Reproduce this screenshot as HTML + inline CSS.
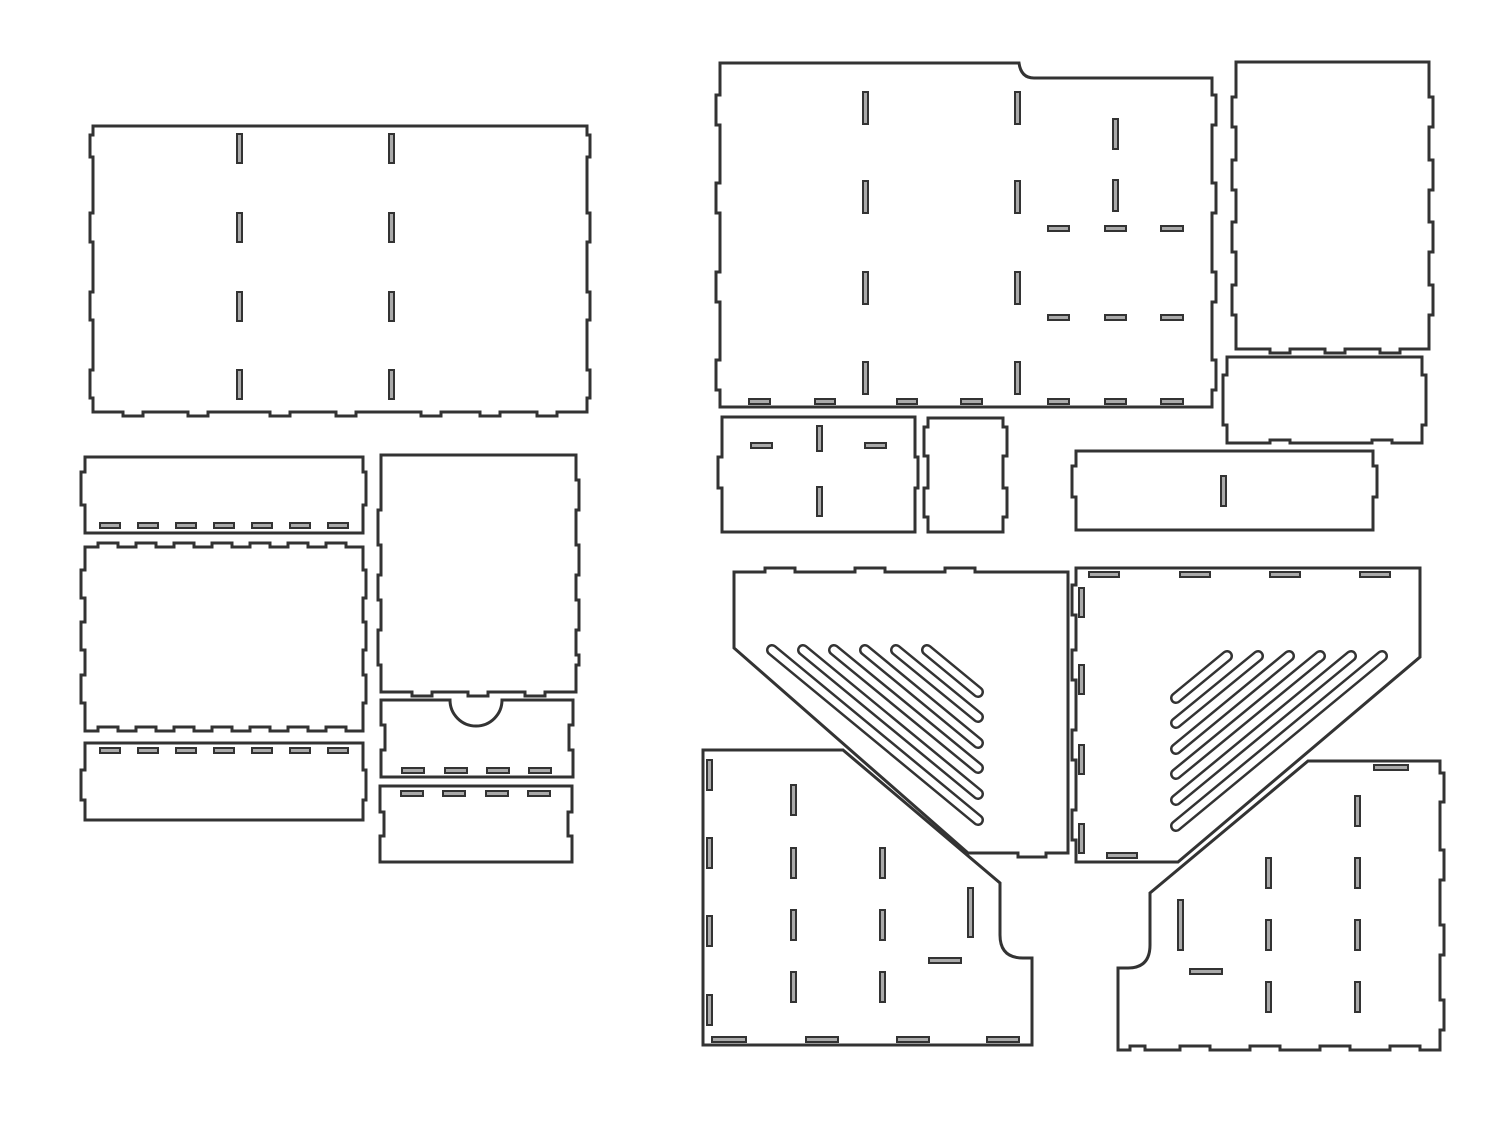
<!DOCTYPE html>
<html><head><meta charset="utf-8"><style>
html,body{margin:0;padding:0;background:#fff;}
svg{display:block}
.p{fill:#fff;stroke:#333;stroke-width:3;stroke-linejoin:miter}
.s{fill:#aaa;stroke:#333;stroke-width:2}
.ro{stroke:#333;stroke-width:12;stroke-linecap:round;fill:none}
.ri{stroke:#fff;stroke-width:7;stroke-linecap:round;fill:none}
</style></head><body>
<svg width="1509" height="1122" viewBox="0 0 1509 1122" xmlns="http://www.w3.org/2000/svg">
<!-- top-left big panel -->
<path class="p" d="M93,126 H587 V135 H590 V157 H587 V213 H590 V242 H587 V292 H590 V320 H587 V370 H590 V398 H587 V412 H557 V416 H537 V412 H500 V416 H480 V412 H441 V416 H421 V412 H356 V416 H336 V412 H290 V416 H270 V412 H208 V416 H188 V412 H143 V416 H123 V412 H93 V398 H90 V370 H93 V320 H90 V292 H93 V242 H90 V213 H93 V157 H90 V135 H93 Z"/>
<g class="s">
<rect x="237" y="134" width="5" height="29"/><rect x="237" y="213" width="5" height="29"/><rect x="237" y="292" width="5" height="29"/><rect x="237" y="370" width="5" height="29"/>
<rect x="389" y="134" width="5" height="29"/><rect x="389" y="213" width="5" height="29"/><rect x="389" y="292" width="5" height="29"/><rect x="389" y="370" width="5" height="29"/>
</g>
<!-- piece A -->
<path class="p" d="M85,457 H363 V472 H366 V505 H363 V533 H85 V505 H81 V472 H85 Z"/>
<g class="s"><rect x="100" y="523" width="20" height="5"/><rect x="138" y="523" width="20" height="5"/><rect x="176" y="523" width="20" height="5"/><rect x="214" y="523" width="20" height="5"/><rect x="252" y="523" width="20" height="5"/><rect x="290" y="523" width="20" height="5"/><rect x="328" y="523" width="20" height="5"/></g>
<!-- piece B -->
<path class="p" d="M85,547 H98 V543 H118 V547 H136 V543 H156 V547 H174 V543 H194 V547 H212 V543 H232 V547 H250 V543 H270 V547 H288 V543 H308 V547 H326 V543 H346 V547 H363 V570 H366 V598 H363 V622 H366 V650 H363 V675 H366 V703 H363 V731 H346 V727 H326 V731 H308 V727 H288 V731 H270 V727 H250 V731 H232 V727 H212 V731 H194 V727 H174 V731 H156 V727 H136 V731 H118 V727 H98 V731 H85 V703 H81 V675 H85 V650 H81 V622 H85 V598 H81 V570 H85 Z"/>
<!-- piece C -->
<path class="p" d="M85,743 H363 V770 H366 V800 H363 V820 H85 V800 H81 V770 H85 Z"/>
<g class="s"><rect x="100" y="748" width="20" height="5"/><rect x="138" y="748" width="20" height="5"/><rect x="176" y="748" width="20" height="5"/><rect x="214" y="748" width="20" height="5"/><rect x="252" y="748" width="20" height="5"/><rect x="290" y="748" width="20" height="5"/><rect x="328" y="748" width="20" height="5"/></g>
<!-- piece D -->
<path class="p" d="M381,455 H576 V480 H579 V510 H576 V545 H579 V575 H576 V600 H579 V630 H576 V655 H579 V665 H576 V692 H545 V696 H525 V692 H488 V696 H468 V692 H432 V696 H412 V692 H381 V665 H378 V630 H381 V600 H378 V575 H381 V545 H378 V510 H381 Z"/>
<!-- piece E -->
<path class="p" d="M381,700 H450 A26,26 0 0 0 502,700 H573 V725 H569 V750 H573 V777 H381 V750 H385 V725 H381 Z"/>
<g class="s"><rect x="402" y="768" width="22" height="5"/><rect x="445" y="768" width="22" height="5"/><rect x="487" y="768" width="22" height="5"/><rect x="529" y="768" width="22" height="5"/></g>
<!-- piece F -->
<path class="p" d="M380,786 H572 V812 H568 V836 H572 V862 H380 V836 H384 V812 H380 Z"/>
<g class="s"><rect x="401" y="791" width="22" height="5"/><rect x="443" y="791" width="22" height="5"/><rect x="486" y="791" width="22" height="5"/><rect x="528" y="791" width="22" height="5"/></g>

<!-- right top big panel -->
<path class="p" d="M720,63 H1019 Q1021,78 1034,78 H1212 V95 H1216 V125 H1212 V183 H1216 V213 H1212 V272 H1216 V302 H1212 V360 H1216 V390 H1212 V407 H720 V390 H716 V360 H720 V302 H716 V272 H720 V213 H716 V183 H720 V125 H716 V95 H720 Z"/>
<g class="s">
<rect x="863" y="92" width="5" height="32"/><rect x="863" y="181" width="5" height="32"/><rect x="863" y="272" width="5" height="32"/><rect x="863" y="362" width="5" height="32"/>
<rect x="1015" y="92" width="5" height="32"/><rect x="1015" y="181" width="5" height="32"/><rect x="1015" y="272" width="5" height="32"/><rect x="1015" y="362" width="5" height="32"/>
<rect x="1113" y="119" width="5" height="30"/><rect x="1113" y="180" width="5" height="31"/>
<rect x="1048" y="226" width="21" height="5"/><rect x="1105" y="226" width="21" height="5"/><rect x="1161" y="226" width="22" height="5"/>
<rect x="1048" y="315" width="21" height="5"/><rect x="1105" y="315" width="21" height="5"/><rect x="1161" y="315" width="22" height="5"/>
<rect x="749" y="399" width="21" height="5"/><rect x="815" y="399" width="20" height="5"/><rect x="897" y="399" width="20" height="5"/><rect x="961" y="399" width="21" height="5"/><rect x="1048" y="399" width="21" height="5"/><rect x="1105" y="399" width="21" height="5"/><rect x="1161" y="399" width="22" height="5"/>
</g>
<!-- right tall panel -->
<path class="p" d="M1236,62 H1429 V97 H1433 V127 H1429 V160 H1433 V190 H1429 V222 H1433 V252 H1429 V285 H1433 V315 H1429 V349 H1400 V353 H1380 V349 H1345 V353 H1325 V349 H1290 V353 H1270 V349 H1236 V315 H1232 V285 H1236 V252 H1232 V222 H1236 V190 H1232 V160 H1236 V127 H1232 V97 H1236 Z"/>
<!-- wide panel under tall -->
<path class="p" d="M1227,357 H1422 V375 H1426 V425 H1422 V443 H1392 V440 H1372 V443 H1290 V440 H1270 V443 H1227 V425 H1223 V375 H1227 Z"/>
<!-- small pieces -->
<path class="p" d="M722,417 H915 V457 H918 V488 H915 V532 H722 V488 H718 V457 H722 Z"/>
<g class="s"><rect x="751" y="443" width="21" height="5"/><rect x="865" y="443" width="21" height="5"/><rect x="817" y="426" width="5" height="25"/><rect x="817" y="487" width="5" height="29"/></g>
<path class="p" d="M928,418 H1003 V427 H1007 V456 H1003 V488 H1007 V517 H1003 V532 H928 V517 H924 V488 H928 V456 H924 V427 H928 Z"/>
<path class="p" d="M1076,451 H1373 V466 H1377 V497 H1373 V530 H1076 V497 H1072 V466 H1076 Z"/>
<rect class="s" x="1221" y="476" width="5" height="30"/>

<!-- funnel G -->
<path class="p" d="M734,572 H765 V568 H795 V572 H855 V568 H885 V572 H945 V568 H975 V572 H1068 V853 H1046 V857 H1018 V853 H968 L734,648 Z"/>
<g>
<line class="ro" x1="772" y1="650" x2="978" y2="820"/><line class="ri" x1="772" y1="650" x2="978" y2="820"/>
<line class="ro" x1="803" y1="650" x2="978" y2="794"/><line class="ri" x1="803" y1="650" x2="978" y2="794"/>
<line class="ro" x1="834" y1="650" x2="978" y2="768"/><line class="ri" x1="834" y1="650" x2="978" y2="768"/>
<line class="ro" x1="865" y1="650" x2="978" y2="743"/><line class="ri" x1="865" y1="650" x2="978" y2="743"/>
<line class="ro" x1="896" y1="650" x2="978" y2="717"/><line class="ri" x1="896" y1="650" x2="978" y2="717"/>
<line class="ro" x1="927" y1="650" x2="978" y2="692"/><line class="ri" x1="927" y1="650" x2="978" y2="692"/>
</g>
<!-- funnel I -->
<path class="p" d="M1076,568 H1420 V657 L1178,862 H1076 V840 H1072 V810 H1076 V760 H1072 V730 H1076 V680 H1072 V650 H1076 V615 H1072 V585 H1076 Z"/>
<g class="s"><rect x="1089" y="572" width="30" height="5"/><rect x="1180" y="572" width="30" height="5"/><rect x="1270" y="572" width="30" height="5"/><rect x="1360" y="572" width="30" height="5"/><rect x="1107" y="853" width="30" height="5"/>
<rect x="1079" y="588" width="5" height="29"/><rect x="1079" y="665" width="5" height="29"/><rect x="1079" y="745" width="5" height="29"/><rect x="1079" y="824" width="5" height="29"/></g>
<g>
<line class="ro" x1="1382" y1="656" x2="1176" y2="826"/><line class="ri" x1="1382" y1="656" x2="1176" y2="826"/>
<line class="ro" x1="1351" y1="656" x2="1176" y2="800"/><line class="ri" x1="1351" y1="656" x2="1176" y2="800"/>
<line class="ro" x1="1320" y1="656" x2="1176" y2="774"/><line class="ri" x1="1320" y1="656" x2="1176" y2="774"/>
<line class="ro" x1="1289" y1="656" x2="1176" y2="749"/><line class="ri" x1="1289" y1="656" x2="1176" y2="749"/>
<line class="ro" x1="1258" y1="656" x2="1176" y2="723"/><line class="ri" x1="1258" y1="656" x2="1176" y2="723"/>
<line class="ro" x1="1227" y1="656" x2="1176" y2="698"/><line class="ri" x1="1227" y1="656" x2="1176" y2="698"/>
</g>
<!-- piece H -->
<path class="p" d="M703,750 H843 L1000,883 V935 Q1000,958 1023,958 H1032 V1045 H703 Z"/>
<g class="s">
<rect x="707" y="760" width="5" height="30"/><rect x="707" y="838" width="5" height="30"/><rect x="707" y="916" width="5" height="30"/><rect x="707" y="995" width="5" height="30"/>
<rect x="712" y="1037" width="34" height="5"/><rect x="806" y="1037" width="32" height="5"/><rect x="897" y="1037" width="32" height="5"/><rect x="987" y="1037" width="32" height="5"/>
<rect x="791" y="785" width="5" height="30"/><rect x="791" y="848" width="5" height="30"/><rect x="791" y="910" width="5" height="30"/><rect x="791" y="972" width="5" height="30"/>
<rect x="880" y="848" width="5" height="30"/><rect x="880" y="910" width="5" height="30"/><rect x="880" y="972" width="5" height="30"/>
<rect x="968" y="888" width="5" height="49"/><rect x="929" y="958" width="32" height="5"/>
</g>
<!-- piece J -->
<path class="p" d="M1308,761 H1440 V773 H1444 V802 H1440 V850 H1444 V880 H1440 V925 H1444 V955 H1440 V1000 H1444 V1030 H1440 V1050 H1420 V1046 H1390 V1050 H1350 V1046 H1320 V1050 H1280 V1046 H1250 V1050 H1210 V1046 H1180 V1050 H1145 V1046 H1130 V1050 H1118 V968 H1128 Q1150,968 1150,945 V893 Z"/>
<g class="s">
<rect x="1374" y="765" width="34" height="5"/>
<rect x="1355" y="796" width="5" height="30"/><rect x="1355" y="858" width="5" height="30"/><rect x="1355" y="920" width="5" height="30"/><rect x="1355" y="982" width="5" height="30"/>
<rect x="1266" y="858" width="5" height="30"/><rect x="1266" y="920" width="5" height="30"/><rect x="1266" y="982" width="5" height="30"/>
<rect x="1178" y="900" width="5" height="50"/><rect x="1190" y="969" width="32" height="5"/>
</g>
</svg>
</body></html>
